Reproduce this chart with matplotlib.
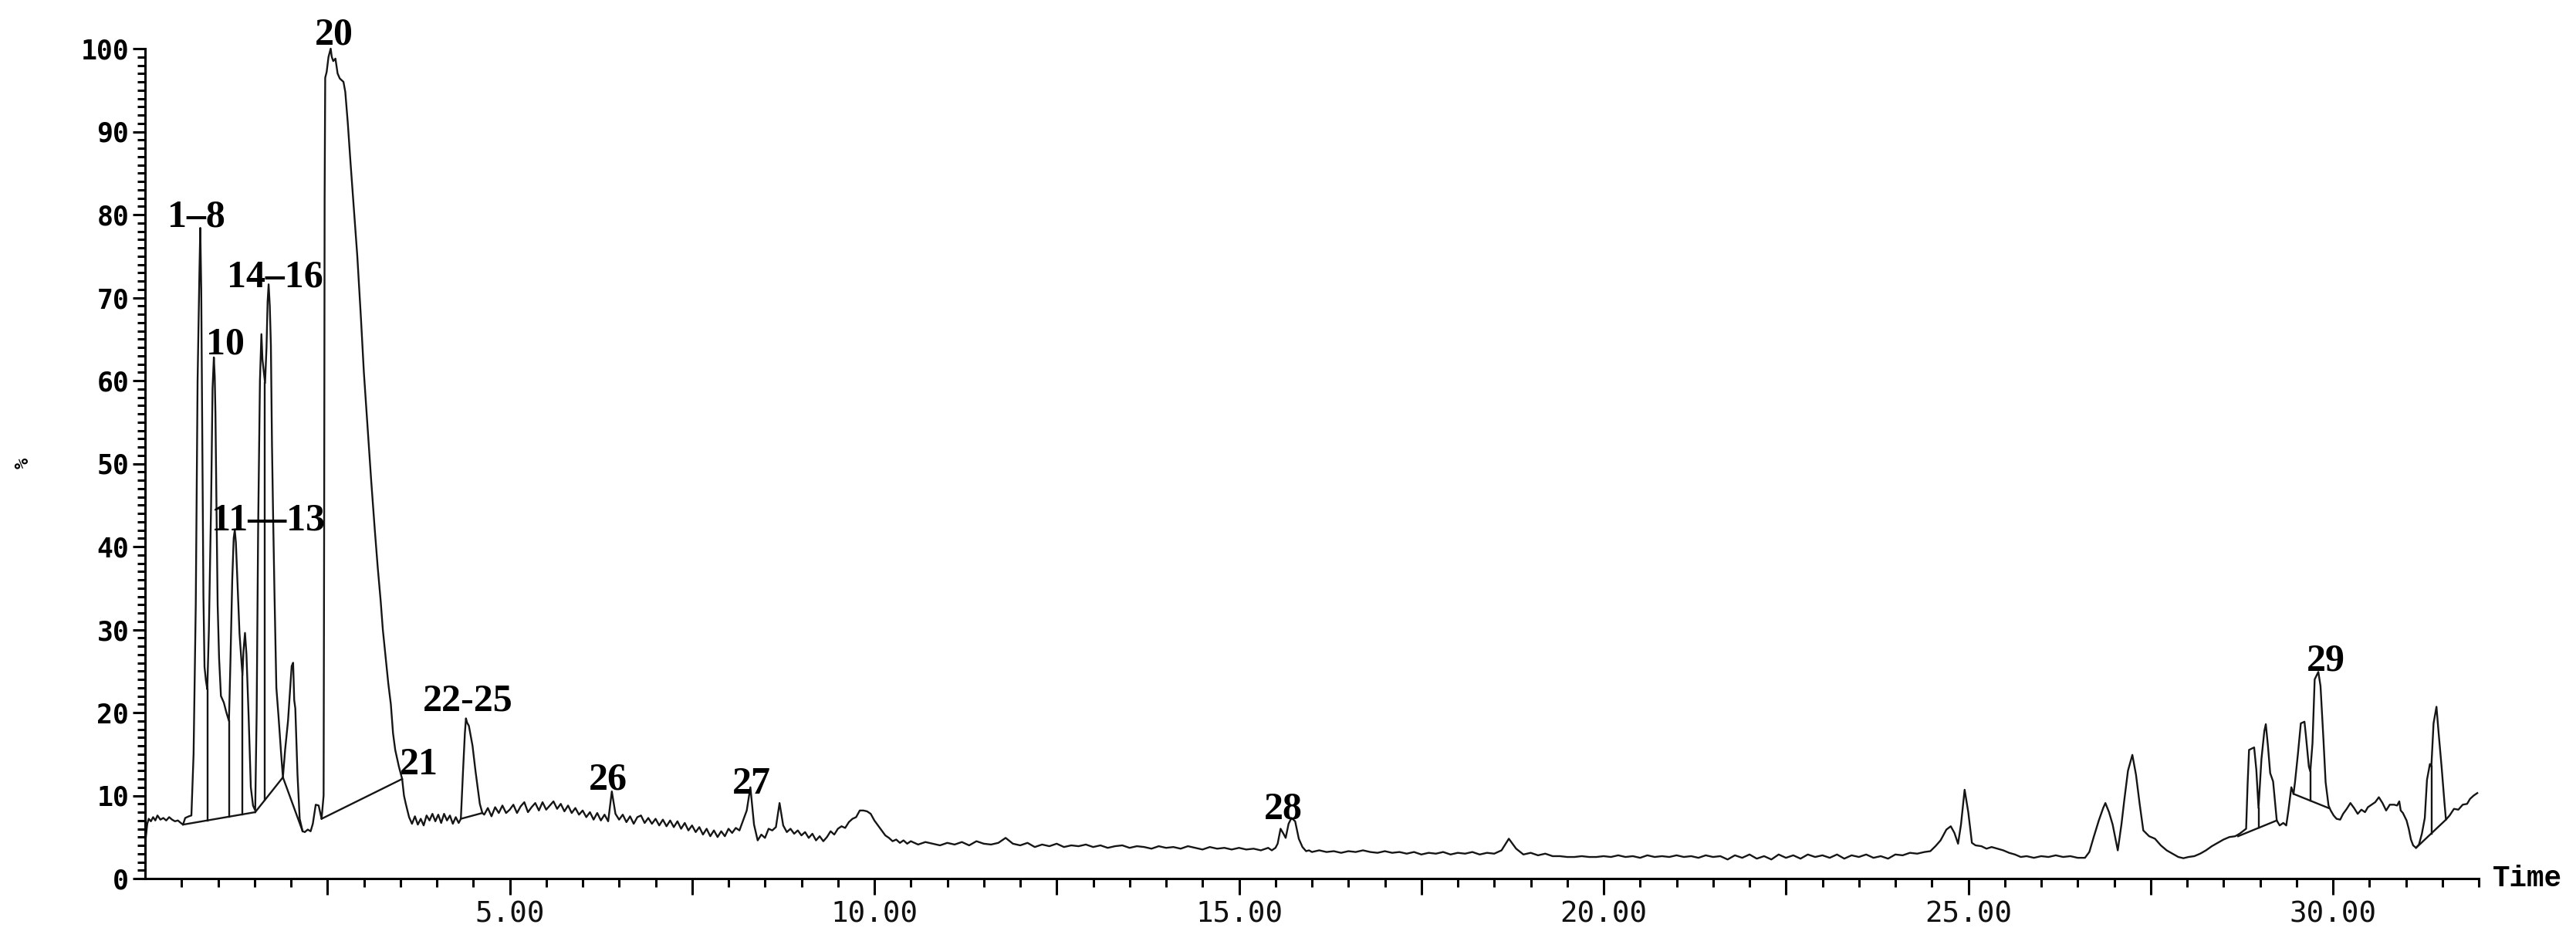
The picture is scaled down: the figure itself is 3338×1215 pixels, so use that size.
import numpy as np
from matplotlib import pyplot as plt
from matplotlib.ticker import FixedLocator, FixedFormatter

# chromatogram: time in min, intensity in %

# start of the run, peaks 1-25
early_t = [0.000, 0.008, 0.03, 0.05, 0.08, 0.11, 0.14, 0.17, 0.21, 0.25,
           0.29, 0.33, 0.37, 0.41, 0.45, 0.49, 0.52, 0.55, 0.60, 0.635,
           0.665, 0.695, 0.72, 0.745, 0.757, 0.77, 0.785, 0.80, 0.815, 0.835, 0.853,
           0.875, 0.905, 0.925, 0.943, 0.955, 0.965, 0.98, 0.995, 1.015, 1.04, 1.08, 1.115, 1.15,
           1.17, 1.195, 1.215, 1.23, 1.245, 1.27, 1.295, 1.335,
           1.35, 1.37, 1.39, 1.42, 1.45, 1.48, 1.51,
           1.53, 1.55, 1.575, 1.595, 1.61, 1.645,
           1.665, 1.68, 1.694, 1.71, 1.725, 1.74, 1.755, 1.775, 1.80, 1.83, 1.865, 1.89,
           1.92, 1.96, 1.99, 2.01, 2.03, 2.045, 2.06, 2.09, 2.12, 2.16, 2.19, 2.23, 2.27, 2.30, 2.34, 2.38, 2.42,
           2.448, 2.456, 2.462, 2.470, 2.49, 2.515, 2.545, 2.56, 2.58, 2.61, 2.64, 2.67, 2.72, 2.745,
           2.78, 2.815, 2.86, 2.91, 2.96, 3.00, 3.05, 3.10, 3.15, 3.19, 3.23, 3.26, 3.30, 3.335,
           3.37, 3.40, 3.43, 3.48, 3.525, 3.55, 3.575, 3.62,
           3.66, 3.70, 3.74, 3.78, 3.82, 3.86, 3.90, 3.94, 3.98, 4.02, 4.06, 4.10, 4.14, 4.18,
           4.22, 4.26, 4.30, 4.33,
           4.36, 4.385, 4.40, 4.415, 4.44, 4.49, 4.53, 4.56, 4.59, 4.625]
early_v = [15.6, 4.8, 6.6, 7.2, 6.9, 7.4, 7.0, 7.6, 7.1, 7.3,
           7.0, 7.4, 7.1, 6.9, 7.0, 6.7, 6.5, 7.3, 7.5, 7.6,
           15.0, 33.0, 60.0, 73.0, 78.4, 71.0, 52.0, 34.0, 25.5, 23.8, 22.8,
           30.0, 45.0, 59.0, 62.8, 60.5, 56.0, 44.0, 33.0, 26.5, 22.0, 21.2, 20.0, 19.0,
           26.0, 36.0, 41.0, 42.0, 40.5, 35.0, 29.5, 24.5,
           27.5, 29.6, 27.0, 19.5, 11.0, 8.8, 8.2,
           20.0, 42.0, 60.0, 65.6, 62.5, 59.7,
           64.0, 69.5, 71.6, 69.0, 64.3, 52.3, 44.0, 34.0, 23.0, 19.5, 15.1, 12.2,
           15.5, 19.0, 23.0, 25.6, 26.0, 21.5, 20.5, 12.5, 7.2, 5.7, 5.6, 5.9, 5.7, 6.6, 8.9, 8.8, 7.2,
           10.0, 45.0, 82.0, 96.5, 97.2, 99.0, 100.0, 99.0, 98.5, 98.8, 97.0, 96.4, 96.0, 94.8,
           91.0, 86.5, 81.0, 75.0, 67.5, 61.0, 54.5, 48.0, 42.0, 37.5, 33.5, 30.0, 26.5, 23.5,
           21.0, 17.5, 15.5, 13.5, 12.0, 10.0, 9.0, 7.4,
           6.6, 7.5, 6.5, 7.2, 6.4, 7.6, 7.0, 7.8, 6.9, 7.7, 6.7, 7.8, 7.0, 7.6,
           6.6, 7.4, 6.7, 7.2,
           13.0, 17.5, 19.3, 18.8, 18.4, 16.0, 13.0, 11.0, 9.0, 7.9]

# noisy baseline 4.65-10.45 min, one scan every 0.05 min
grid1_start, grid1_step = 4.65, 0.05
grid1_v = [7.7, 8.5, 7.5, 8.6, 7.9, 8.8, 7.9,
           8.3, 8.9, 7.9, 8.7, 9.2, 8.0, 8.6, 9.1, 8.2, 9.2, 8.3, 8.8, 9.3, 8.4, 9.0, 8.1, 8.8, 7.9, 8.5, 7.7,
           8.2, 7.4, 8.0, 7.1, 7.9, 7.0, 7.7, 6.9, 10.5, 7.8, 7.1, 7.7, 6.8, 7.5, 6.6, 7.4, 7.6, 6.7, 7.3, 6.6,
           7.2, 6.4, 7.1, 6.3, 7.0, 6.2, 6.9, 6.0, 6.7, 5.8, 6.4, 5.6, 6.2, 5.3, 6.0, 5.1, 5.8, 5.0, 5.7, 5.1,
           6.0, 5.5, 6.1, 5.8, 7.0, 8.2, 11.0, 6.5, 4.6, 5.3, 4.9, 6.0, 5.8, 6.2, 9.1, 6.4, 5.6, 6.0, 5.4, 5.8,
           5.2, 5.6, 4.9, 5.4, 4.6, 5.1, 4.5, 5.0, 5.7, 5.3, 6.0, 6.3, 6.1, 6.8, 7.2, 7.4, 8.2, 8.2, 8.1, 7.8,
           7.0, 6.4, 5.8, 5.2, 4.9, 4.5, 4.7, 4.3, 4.6, 4.2]

# 10.5-15.4 min, every 0.1 min
grid2_start, grid2_step = 10.5, 0.1
grid2_v = [4.5, 4.1, 4.4, 4.2, 4.0,
           4.3, 4.1, 4.4, 4.0, 4.5, 4.2, 4.1, 4.3, 4.9, 4.2,
           4.0, 4.3, 3.8, 4.1, 3.9, 4.2, 3.8, 4.0, 3.9, 4.1,
           3.8, 4.0, 3.7, 3.9, 4.0, 3.7, 3.9, 3.8, 3.6, 3.9,
           3.7, 3.8, 3.6, 3.9, 3.7, 3.5, 3.8, 3.6, 3.7, 3.5,
           3.7, 3.5, 3.6, 3.4, 3.7]

# peak 28
mid_t = [15.45, 15.50, 15.53, 15.57, 15.61, 15.64, 15.68, 15.72, 15.77, 15.82, 15.87, 15.92, 15.96]
mid_v = [3.4, 3.7, 4.2, 6.0, 5.4, 4.9, 6.6, 7.3, 6.9, 4.8, 3.8, 3.3, 3.4]

# 16.0-24.4 min, every 0.1 min
grid3_start, grid3_step = 16.0, 0.1
grid3_v = [3.2, 3.4, 3.2, 3.3, 3.1, 3.3, 3.2, 3.4, 3.2, 3.1,
           3.3, 3.1, 3.2, 3.0, 3.2, 2.9, 3.1, 3.0, 3.2, 2.9,
           3.1, 3.0, 3.2, 2.9, 3.1, 3.0, 3.4, 4.8, 3.6, 2.9,
           3.1, 2.8, 3.0, 2.7, 2.7, 2.6, 2.6, 2.7, 2.6, 2.6,
           2.7, 2.6, 2.8, 2.6, 2.7, 2.5, 2.8, 2.6, 2.7, 2.6,
           2.8, 2.6, 2.7, 2.5, 2.8, 2.6, 2.7, 2.3, 2.8, 2.5,
           2.9, 2.4, 2.7, 2.3, 2.9, 2.5, 2.8, 2.4, 2.9, 2.6,
           2.8, 2.5, 2.9, 2.4, 2.8, 2.6, 2.9, 2.5, 2.7, 2.4,
           2.9, 2.8, 3.1, 3.0, 3.2]

# end of the run, peaks around 25-32 min (29)
late_t = [24.48, 24.55, 24.62, 24.70, 24.76, 24.81, 24.86, 24.90, 24.95, 25.00, 25.05, 25.10,
          25.18, 25.25, 25.32, 25.40, 25.48, 25.56, 25.64, 25.72, 25.80, 25.90, 26.00, 26.10,
          26.20, 26.30, 26.40, 26.50, 26.60, 26.66, 26.72, 26.79, 26.85, 26.88, 26.93, 26.98,
          27.05, 27.10, 27.14, 27.19, 27.25, 27.30, 27.35, 27.40, 27.48, 27.56, 27.64, 27.72,
          27.80, 27.88, 27.95, 28.02, 28.10, 28.18, 28.26, 28.34, 28.42, 28.50, 28.58, 28.66,
          28.72, 28.78, 28.81, 28.83, 28.85, 28.92, 28.95, 28.98, 29.02, 29.06, 29.08, 29.11,
          29.14, 29.18, 29.23, 29.27, 29.32, 29.36, 29.39, 29.43, 29.46, 29.48, 29.52, 29.56,
          29.61, 29.63, 29.67, 29.69, 29.72, 29.75, 29.80, 29.83, 29.87, 29.90, 29.94, 29.97,
          30.01, 30.05, 30.10, 30.14, 30.19, 30.24, 30.29, 30.34, 30.39, 30.44, 30.48, 30.53,
          30.58, 30.63, 30.68, 30.73, 30.78, 30.84, 30.88, 30.91, 30.93, 30.96, 31.01, 31.04,
          31.07, 31.10, 31.14, 31.18, 31.22, 31.26, 31.29, 31.33, 31.35, 31.38, 31.42, 31.45,
          31.49, 31.53, 31.55, 31.60, 31.66, 31.72, 31.78, 31.84, 31.88, 31.93, 31.98]
late_v = [3.3, 3.9, 4.6, 5.9, 6.3, 5.5, 4.2, 6.5, 10.7, 8.0, 4.3, 4.0,
          3.9, 3.6, 3.8, 3.6, 3.4, 3.1, 2.9, 2.6, 2.7, 2.5, 2.7, 2.6,
          2.8, 2.6, 2.7, 2.5, 2.5, 3.2, 5.0, 7.0, 8.5, 9.1, 8.0, 6.5,
          3.4, 6.5, 9.5, 13.0, 14.9, 12.5, 9.0, 5.8, 5.1, 4.8, 4.0, 3.4,
          3.0, 2.6, 2.45, 2.6, 2.7, 3.0, 3.4, 3.9, 4.3, 4.7, 5.0, 5.1,
          5.4, 5.8, 6.0, 11.3, 15.5, 15.8, 13.1, 8.5, 14.4, 17.8, 18.6, 15.9,
          12.7, 11.7, 7.0, 6.4, 6.7, 6.4, 8.2, 11.0, 10.2, 11.6, 15.0, 18.7,
          18.9, 17.2, 13.5, 12.9, 16.3, 24.0, 24.9, 23.2, 16.8, 11.6, 8.8, 8.2,
          7.6, 7.2, 7.1, 7.8, 8.4, 9.1, 8.5, 7.8, 8.3, 8.0, 8.6, 8.9,
          9.2, 9.8, 9.1, 8.2, 8.9, 8.9, 8.8, 9.3, 8.2, 7.9, 7.0, 6.0,
          4.7, 4.0, 3.7, 4.1, 5.4, 7.3, 11.9, 13.8, 13.5, 18.7, 20.7, 17.5,
          13.5, 9.1, 7.1, 7.6, 8.4, 8.3, 8.9, 9.0, 9.6, 10.0, 10.3]

# integration baselines drawn under the peaks: (t0, v0, t1, v1)
baselines = [(0.52, 6.5, 1.51, 8.0),
             (1.51, 8.0, 1.89, 12.2),
             (1.89, 12.2, 2.16, 5.7),
             (2.42, 7.2, 3.525, 12.0),
             (4.33, 7.2, 4.625, 7.9),
             (28.70, 5.1, 29.23, 7.0),
             (29.46, 10.2, 29.94, 8.5),
             (31.14, 3.7, 31.55, 7.1)]
# valleys with a drop line down to the baseline
drop_t = [0.853, 1.15, 1.335, 1.645, 28.98, 29.69, 31.35]

# peak labels: text, time, % (baseline of the text)
label_text = ["1\u20138", "10", "14\u201316", "20", "11\u201413", "21", "22-25", "26", "27", "28", "29"]
label_t = [0.703, 1.105, 1.782, 2.586, 1.687, 3.750, 4.428, 6.353, 8.311, 15.61, 29.90]
label_v = [78.6, 63.2, 71.3, 100.5, 42.0, 12.6, 20.2, 10.7, 10.2, 7.2, 25.1]

# put the trace together
t = np.concatenate([early_t,
                    grid1_start + grid1_step * np.arange(len(grid1_v)),
                    grid2_start + grid2_step * np.arange(len(grid2_v)),
                    mid_t,
                    grid3_start + grid3_step * np.arange(len(grid3_v)),
                    late_t])
v = np.concatenate([early_v, grid1_v, grid2_v, mid_v, grid3_v, late_v])

W, H = 3338, 1215
fig = plt.figure(figsize=(W / 100, H / 100), dpi=100)
ax = fig.add_axes([188 / W, 1 - 1138 / H, (3212 - 188) / W, (1138 - 63) / H])

line_col = '#151515'
ax.plot(t, v, color=line_col, lw=1.7, clip_on=False)

for t0, v0, t1, v1 in baselines:
    ax.plot([t0, t1], [v0, v1], color=line_col, lw=1.7)

for td in drop_t:
    top = np.interp(td, t, v)
    for t0, v0, t1, v1 in baselines:
        if t0 <= td <= t1:
            bot = v0 + (v1 - v0) * (td - t0) / (t1 - t0)
            ax.plot([td, td], [bot, top], color=line_col, lw=1.7)
            break

for txt, lt, lv in zip(label_text, label_t, label_v):
    ax.text(lt, lv, txt, ha='center', va='baseline', fontsize=36,
            family='Liberation Serif', fontweight='bold', color='black')

ax.set_xlim(0, 32)
ax.set_ylim(0, 100)

for side in ['top', 'right']:
    ax.spines[side].set_visible(False)
for side in ['left', 'bottom']:
    ax.spines[side].set_linewidth(2.2)

# x: long ticks every 2.5 min, labels every 5 min, short ticks every 0.5 min
x_major = [2.5 * k for k in range(1, 13)]
x_labels = ["%.2f" % x if x % 5 == 0 else "" for x in x_major]
x_minor = [0.5 * k for k in range(1, 65) if (0.5 * k) % 2.5 != 0]
ax.xaxis.set_major_locator(FixedLocator(x_major))
ax.xaxis.set_major_formatter(FixedFormatter(x_labels))
ax.xaxis.set_minor_locator(FixedLocator(x_minor))

y_major = list(range(0, 101, 10))
ax.yaxis.set_major_locator(FixedLocator(y_major))
ax.yaxis.set_major_formatter(FixedFormatter([str(y) for y in y_major]))
ax.yaxis.set_minor_locator(FixedLocator([y for y in range(1, 100) if y % 10 != 0]))

ax.tick_params(axis='x', which='major', direction='out', length=15, width=2.2, pad=5.5,
               labelsize=27, labelfontfamily='DejaVu Sans Mono', labelcolor='#111111')
ax.tick_params(axis='x', which='minor', direction='out', length=8, width=2.2)
ax.tick_params(axis='y', which='major', direction='out', length=11.5, width=2.2, pad=3.5,
               labelsize=25, labelfontfamily='DejaVu Sans Mono')
ax.tick_params(axis='y', which='minor', direction='out', length=7, width=2.2)
for lab in ax.get_yticklabels():
    lab.set_fontweight('bold')

fig.text(3230 / W, 1 - 1138 / H, 'Time', ha='left', va='center', fontsize=27,
         family='Liberation Mono', fontweight='bold')
fig.text(30 / W, 1 - 600 / H, '%', ha='center', va='center', fontsize=17, rotation=90,
         family='DejaVu Sans Mono', fontweight='bold')

fig.savefig('out.png', dpi=100)
